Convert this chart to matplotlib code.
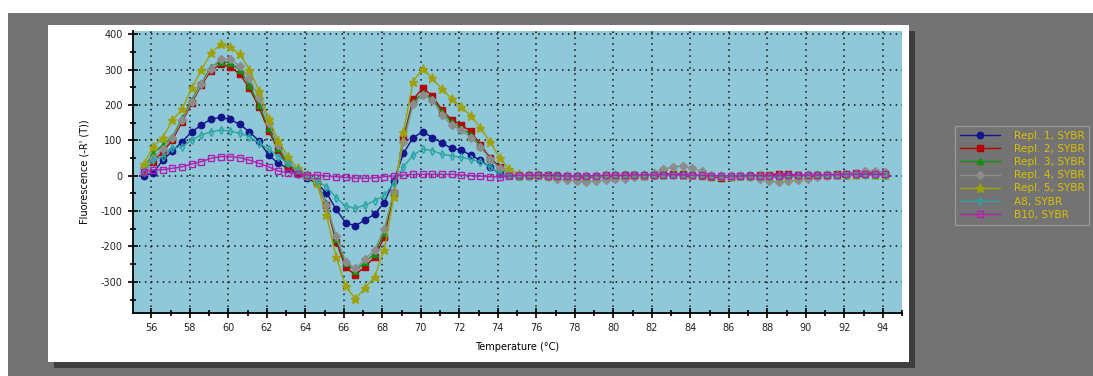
import numpy as np
import matplotlib.pyplot as plt
from matplotlib.patches import Rectangle
from matplotlib.ticker import MultipleLocator

W, H = 1093, 376

# Temperature grid of the melt curve (°C), one reading every 0.5 °C
temps = 55.6 + 0.5 * np.arange(78)

# Derivative fluorescence -R'(T), first 39 readings (55.6 .. 74.6 °C)
repl1_head = [-1, 8, 44, 70, 96, 124, 143, 160, 165, 159, 145, 124, 98, 58, 35, 21, 5, -7, -22, -48,
              -95, -133, -142, -125, -109, -76, -15, 63, 108, 124, 108, 93, 77, 73, 58, 44, 24, 5, 1]
repl2_head = [14, 40, 68, 101, 153, 205, 256, 297, 315, 308, 287, 247, 193, 126, 73, 25, 8, 0, -17, -83,
              -186, -259, -280, -257, -231, -174, -48, 106, 216, 247, 226, 186, 158, 144, 125, 88, 50, 25, 2]
repl3_head = [21, 63, 87, 110, 162, 214, 261, 308, 322, 319, 299, 256, 200, 134, 77, 35, 12, 0, -15, -78,
              -178, -248, -268, -245, -220, -162, -45, 100, 208, 235, 218, 180, 152, 136, 116, 84, 48, 22, 3]
repl4_head = [25, 50, 75, 108, 157, 209, 259, 303, 331, 329, 310, 275, 219, 148, 87, 40, 15, 0, -15, -83,
              -170, -243, -262, -236, -210, -151, -45, 95, 202, 228, 214, 171, 143, 129, 108, 82, 46, 21, 5]
repl5_head = [33, 82, 108, 157, 188, 247, 299, 346, 372, 365, 343, 300, 239, 160, 99, 54, 21, 2, -22, -111,
              -229, -313, -348, -318, -285, -210, -60, 124, 266, 303, 275, 245, 218, 195, 170, 135, 95, 50, 18]
a8_head = [11, 44, 54, 77, 82, 101, 115, 124, 129, 126, 120, 110, 93, 75, 54, 35, 15, 0, -15, -31,
           -62, -86, -92, -83, -71, -55, -22, 25, 58, 75, 71, 61, 56, 52, 46, 40, 25, 5, 1]
b10_head = [11, 16, 17, 21, 25, 33, 40, 49, 54, 54, 51, 44, 35, 25, 13, 9, 4, 2, 2, -1,
            -3, -5, -7, -7, -6, -3, -1, 2, 4, 4, 4, 4, 4, 2, 0, -1, -3, -3, -1]

# Remaining 39 readings (75.1 .. 94.1 °C), flat tail
repl1_tail = [0, 1, 2, 2, 1, 0, -2, -3, -2, 0, 1, 2, 2, 1, 2, 4, 5, 4, 3, 2,
              0, -2, -1, 0, 1, 0, -2, -3, -2, 0, 1, 2, 2, 3, 3, 4, 5, 4, 3]
repl2_tail = [0, 0, 1, 2, 0, -2, -3, -4, -3, -2, 0, 2, 1, 0, 2, 5, 6, 4, 2, 0,
              -3, -6, -4, -1, 0, 2, 3, 5, 4, 2, 0, 1, 2, 4, 6, 8, 9, 7, 5]
repl3_tail = [0, 1, 1, 2, 1, -1, -2, -3, -2, -1, 0, 1, 1, 0, 1, 3, 4, 3, 2, 1,
              -1, -2, -2, 0, 1, 1, 0, -1, -1, 0, 1, 2, 2, 3, 3, 4, 4, 3, 2]
repl4_tail = [0, 0, -2, -5, -8, -12, -15, -17, -15, -12, -10, -8, -5, 0, 8, 18, 25, 28, 22, 12,
              3, -2, -3, -2, -5, -10, -15, -18, -16, -12, -8, -3, 0, 2, 5, 8, 12, 14, 10]
repl5_tail = [5, 2, 1, 0, -1, -2, -2, -1, 0, 1, 2, 2, 1, 1, 2, 3, 4, 3, 2, 1,
              0, -1, -1, 0, 0, 1, 0, -1, 0, 0, 1, 1, 2, 2, 3, 3, 4, 3, 2]
a8_tail = [0, 0, 1, 1, 0, -1, -1, -1, 0, 0, 1, 1, 1, 1, 1, 2, 2, 2, 1, 1,
           0, -1, -1, 0, 0, 0, -1, -1, 0, 0, 1, 1, 1, 2, 2, 2, 3, 2, 2]
b10_tail = [2, 1, 1, 0, 0, -1, -1, 0, 0, 1, 1, 1, 2, 2, 2, 3, 3, 2, 2, 1,
            0, 0, -1, -1, 0, 0, 0, 0, 1, 1, 2, 2, 3, 3, 4, 4, 5, 4, 4]

labels = ['Repl. 1, SYBR', 'Repl. 2, SYBR', 'Repl. 3, SYBR', 'Repl. 4, SYBR',
          'Repl. 5, SYBR', 'A8, SYBR', 'B10, SYBR']
series = [repl1_head + repl1_tail, repl2_head + repl2_tail, repl3_head + repl3_tail,
          repl4_head + repl4_tail, repl5_head + repl5_tail, a8_head + a8_tail,
          b10_head + b10_tail]

# colour, marker, marker size, filled
styles = [
    ('#14148c', 'o', 4.6, True),
    ('#b40000', 's', 4.4, True),
    ('#109010', '^', 5, True),
    ('#8c8c8c', 'D', 4.4, True),
    ('#a0a000', '*', 6.5, True),
    ('#2aa5a5', 'd', 4.2, False),
    ('#b020b0', 's', 4.6, False),
]

plt.rcParams['axes.unicode_minus'] = False


def px(x0, y0, x1, y1):
    # pixel box (top-left origin) -> figure fraction rectangle
    return (x0 / W, 1 - y1 / H), (x1 - x0) / W, (y1 - y0) / H


fig = plt.figure(figsize=(W / 100, H / 100), dpi=100, facecolor='white')

# window background, shadow and white chart panel
for box, color in [((8, 13, 1093, 376), '#737373'),
                   ((54, 31, 915, 368), '#3e3e3e'),
                   ((48, 25, 909, 362), 'white')]:
    xy, w, h = px(*box)
    fig.add_artist(Rectangle(xy, w, h, transform=fig.transFigure,
                             facecolor=color, edgecolor='none', zorder=0))

(ax_x, ax_y), ax_w, ax_h = px(133, 31, 902, 313)
ax = fig.add_axes([ax_x, ax_y, ax_w, ax_h])
ax.set_facecolor('#8fc8d8')

for vals, label, (color, marker, ms, filled) in zip(series, labels, styles):
    ax.plot(temps, vals, color=color, linewidth=1, marker=marker, markersize=ms,
            markerfacecolor=color if filled else 'none', markeredgecolor=color,
            markeredgewidth=1, label=label)

ax.set_xlim(55.05, 95.0)
ax.set_ylim(-388, 409)
ax.xaxis.set_major_locator(MultipleLocator(2))
ax.xaxis.set_minor_locator(MultipleLocator(1))
ax.yaxis.set_major_locator(MultipleLocator(100))
ax.yaxis.set_minor_locator(MultipleLocator(50))
ax.grid(which='major', color='#101010', linestyle=(0, (1, 2.9)), linewidth=1.1)

for side in ['top', 'right']:
    ax.spines[side].set_visible(False)
for side in ['left', 'bottom']:
    ax.spines[side].set_linewidth(1.3)

ax.tick_params(which='major', direction='inout', length=7, width=1.2,
               labelsize=7, labelcolor='#222222', pad=4)
ax.tick_params(which='minor', direction='inout', length=5, width=1.2)

ax.set_xlabel('Temperature (°C)', fontsize=7, labelpad=6)
ax.set_ylabel("Fluorescence (-R' (T))", fontsize=7, labelpad=8)

leg = fig.legend(loc='upper left', bbox_to_anchor=(955 / W, 1 - 126 / H),
                 frameon=True, fancybox=False, fontsize=7.6, handlelength=3.8,
                 handletextpad=1.3, labelspacing=0.3, borderpad=0.45,
                 borderaxespad=0)
leg.get_frame().set_facecolor('#737373')
leg.get_frame().set_edgecolor('#a0a0a0')
leg.get_frame().set_linewidth(1)
for text in leg.get_texts():
    text.set_color('#d8c000')

fig.savefig('out.png', dpi=100)
plt.close()
